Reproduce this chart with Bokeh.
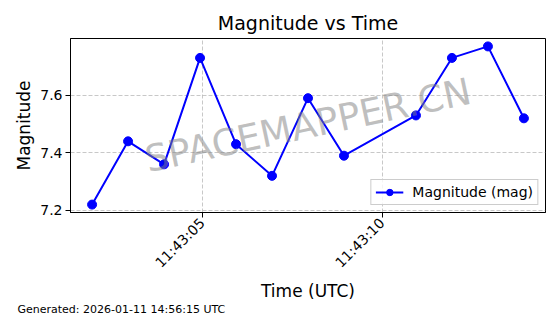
import math
import pandas as pd
from bokeh.plotting import figure
from bokeh.models import (DatetimeTickFormatter, SingleIntervalTicker, Label, Legend,
                          LegendItem, Range1d, Title)
from bokeh.embed import file_html
from bokeh.resources import INLINE

# ---- data ----
times = ["2026-01-11 11:43:01.94", "2026-01-11 11:43:02.94", "2026-01-11 11:43:03.94",
         "2026-01-11 11:43:04.94", "2026-01-11 11:43:05.94", "2026-01-11 11:43:06.94",
         "2026-01-11 11:43:07.94", "2026-01-11 11:43:08.94", "2026-01-11 11:43:10.94",
         "2026-01-11 11:43:11.94", "2026-01-11 11:43:12.94", "2026-01-11 11:43:13.94"]
magnitudes = [7.22, 7.44, 7.36, 7.73, 7.43, 7.32, 7.59, 7.39, 7.53, 7.73, 7.77, 7.52]
y_ticks = [7.2, 7.4, 7.6]
title_text = "Magnitude vs Time"
x_label = "Time (UTC)"
y_label = "Magnitude"
legend_label = "Magnitude (mag)"
watermark = "SPACEMAPPER.CN"
footer = "Generated: 2026-01-11 14:56:15 UTC"

t = pd.to_datetime(times)
FONT = "DejaVu Sans"

# matplotlib-like 5% margins
tmin, tmax = t.min(), t.max()
tpad = (tmax - tmin) * 0.05
ymin, ymax = min(magnitudes), max(magnitudes)
ypad = (ymax - ymin) * 0.05

p = figure(width=560, height=314, x_axis_type="datetime", output_backend="svg",
           toolbar_location=None,
           x_range=Range1d(tmin - tpad, tmax + tpad),
           y_range=Range1d(ymin - ypad, ymax + ypad),
           min_border_left=70, min_border_right=15, min_border_top=38,
           min_border_bottom=102)

p.title.text = title_text
p.title.align = "center"
p.title.text_font = FONT
p.title.text_font_size = "19px"
p.title.text_font_style = "normal"
p.title.text_color = "black"

p.outline_line_color = "black"
p.outline_line_width = 1
p.background_fill_color = "white"
p.border_fill_color = "white"

# axes
for ax in (p.xaxis[0], p.yaxis[0]):
    ax.axis_line_color = "black"
    ax.major_tick_line_color = "black"
    ax.major_tick_out = 5
    ax.major_tick_in = 0
    ax.minor_tick_line_color = None
    ax.major_label_text_font = FONT
    ax.major_label_text_font_size = "14px"
    ax.major_label_text_color = "black"
    ax.axis_label_text_font = FONT
    ax.axis_label_text_font_size = "17px"
    ax.axis_label_text_font_style = "normal"
    ax.axis_label_text_color = "black"
    ax.major_label_standoff = 3

p.xaxis.ticker = SingleIntervalTicker(interval=5000, num_minor_ticks=0)
p.xaxis.formatter = DatetimeTickFormatter(seconds="%H:%M:%S", milliseconds="%H:%M:%S",
                                          minsec="%H:%M:%S", minutes="%H:%M:%S")
p.xaxis.major_label_orientation = math.pi / 4
p.xaxis.axis_label = x_label
p.xaxis.axis_label_standoff = 2

p.yaxis.ticker = y_ticks
p.yaxis.axis_label = y_label
p.yaxis.axis_label_standoff = 3

# grid
for g in (p.xgrid[0], p.ygrid[0]):
    g.grid_line_color = "#b0b0b0"
    g.grid_line_alpha = 0.7
    g.grid_line_dash = "4 2"
    g.grid_line_width = 1
p.xgrid.ticker = p.xaxis.ticker
p.ygrid.ticker = y_ticks

# watermark at axes centre
wm = Label(x=tmin - tpad + (tmax - tmin + 2 * tpad) / 2,
           y=(ymin + ymax) / 2, text=watermark,
           text_font=FONT, text_font_size="37px", text_color="gray", text_alpha=0.5,
           text_align="center", text_baseline="middle", angle=12, angle_units="deg")
p.add_layout(wm)

# data
line = p.line(t, magnitudes, line_color="#0000ff", line_width=2)
pts = p.scatter(t, magnitudes, size=9, fill_color="#0000ff", line_color="#0000ff")

legend = Legend(items=[LegendItem(label=legend_label, renderers=[line, pts])],
                location="bottom_right")
legend.label_text_font = FONT
legend.label_text_font_size = "14px"
legend.label_text_color = "black"
legend.border_line_color = "#cccccc"
legend.border_line_alpha = 1
legend.background_fill_alpha = 0.8
legend.margin = 7
legend.padding = 4
legend.spacing = 0
legend.glyph_width = 28
legend.glyph_height = 16
legend.label_height = 16
legend.label_standoff = 9
p.add_layout(legend)

# footer text below the x axis
foot = Title(text=footer, align="left", vertical_align="middle", text_font=FONT,
             text_font_size="11px", text_font_style="normal", text_color="black",
             offset=-53, standoff=-6)
p.add_layout(foot, "below")

open("out.html", "w").write(file_html(p, INLINE))
